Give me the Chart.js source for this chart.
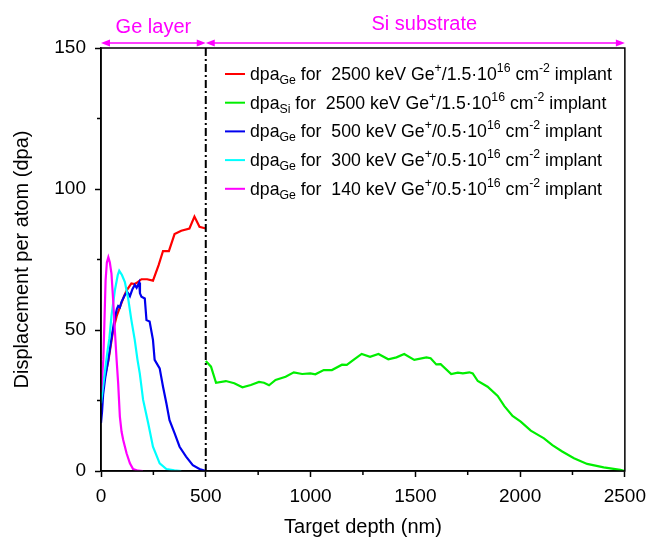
<!DOCTYPE html>
<html>
<head>
<meta charset="utf-8">
<script src="https://cdn.jsdelivr.net/npm/chart.js@4.4.1/dist/chart.umd.min.js"></script>
<style>
  html, body { margin: 0; padding: 0; background: #fff; }
  #wrap { width: 654px; height: 543px; }
</style>
</head>
<body>
<div id="wrap"><canvas id="chart" width="654" height="543"></canvas></div>
<script>
// 2500 keV, dpa in Ge layer
const geDepth2500 = [0, 10, 20, 35, 58, 75, 90, 110, 122, 145, 161, 175, 193, 220, 248, 275, 296, 324, 351, 383, 422, 446, 470, 500];
const geDpa2500 = [27, 31, 34, 39, 50, 55, 58, 62, 64, 66.5, 66.3, 67, 68, 68, 67.5, 73, 78, 78, 84, 85.2, 86, 90.2, 86.6, 86];

// 2500 keV, dpa in Si substrate
const siDepth2500 = [500, 525, 549, 596, 636, 675, 715, 754, 778, 802, 833, 881, 920, 960, 999, 1023, 1063, 1102, 1150, 1173, 1205, 1244, 1284, 1324, 1371, 1410, 1447, 1495, 1553, 1573, 1600, 1621, 1671, 1703, 1727, 1758, 1774, 1798, 1845, 1893, 1925, 1964, 2003, 2051, 2114, 2154, 2201, 2257, 2320, 2399, 2478, 2500];
const siDpa2500 = [39, 37, 31.3, 31.9, 31.1, 29.7, 30.5, 31.6, 31.3, 30.4, 32.3, 33.4, 35, 34.4, 34.6, 34.3, 35.8, 35.8, 37.7, 37.6, 39.4, 41.5, 40.5, 41.5, 39.6, 40.3, 41.5, 39.4, 40.3, 40, 37.8, 37.9, 34.4, 34.9, 34.6, 35, 34.6, 31.9, 29.9, 26.6, 23, 19.5, 17.5, 14.3, 11.6, 9.2, 6.9, 4.5, 2.5, 1.3, 0.4, 0];

// 500 keV
const geDepth500 = [0, 5, 10, 20, 35, 50, 65, 76, 82, 90, 98, 114, 125, 138, 150, 161, 170, 182, 186, 193, 209, 217, 232, 248, 256, 280, 296, 312, 327, 351, 375, 406, 438, 470, 493, 500];
const geDpa500 = [17, 21, 27, 33, 39.5, 47, 54, 57.5, 58.5, 58, 60, 62.4, 63.5, 62, 64.5, 66, 65, 66.8, 63, 61.8, 61.2, 53.5, 53, 46.5, 39.4, 36.4, 29.9, 24, 18, 13.4, 8.6, 5.1, 2.1, 0.7, 0.2, 0];

// 300 keV
const geDepth300 = [0, 10, 20, 30, 40, 50, 66, 80, 87, 100, 114, 130, 145, 161, 174, 185, 201, 225, 248, 280, 312, 350, 383];
const geDpa300 = [24, 30, 36, 42, 47, 55, 64, 69.5, 71, 69.5, 67, 61, 53.5, 46.5, 39.5, 34.6, 25.2, 17, 8.6, 2.7, 0.7, 0.2, 0];

// 140 keV
const geDepth140 = [0, 5, 11, 16, 22, 28, 35, 42, 50, 58, 66, 74, 82, 90, 98, 106, 122, 138, 153, 177, 200];
const geDpa140 = [28, 33, 39.4, 52, 67.7, 74, 75.8, 74, 70, 60.6, 50, 40, 31, 19.3, 14, 11, 6.3, 2.7, 0.7, 0.1, 0];

const xTicks = [0, 500, 1000, 1500, 2000, 2500];
const xMinorTicks = [250, 750, 1250, 1750, 2250];
const yTicks = [0, 50, 100, 150];
const yMinorTicks = [25, 75, 125];
const layerBoundary = 500;

const seriesColors = ["#ff0000", "#00ee00", "#0000ee", "#00ffff", "#ff00ff"];
// legend texts: [sub, energy, dose]
const legendItems = [
  ["Ge", "2500", "1.5"],
  ["Si", "2500", "1.5"],
  ["Ge", "500", "0.5"],
  ["Ge", "300", "0.5"],
  ["Ge", "140", "0.5"],
];

const FONT = "'Liberation Sans', Arial, sans-serif";
Chart.defaults.font.family = FONT;
Chart.defaults.color = "#000";

function pts(xs, ys) {
  return xs.map((x, i) => ({ x: x, y: ys[i] }));
}

function arrowHead(ctx, x, y, dir) {
  ctx.beginPath();
  ctx.moveTo(x, y);
  ctx.lineTo(x - dir * 9, y - 3.5);
  ctx.lineTo(x - dir * 9, y + 3.5);
  ctx.closePath();
  ctx.fill();
}

function doubleArrow(ctx, x1, x2, y) {
  ctx.beginPath();
  ctx.moveTo(x1 + 4, y);
  ctx.lineTo(x2 - 4, y);
  ctx.stroke();
  arrowHead(ctx, x1, y, -1);
  arrowHead(ctx, x2, y, 1);
}

const decorPlugin = {
  id: "decor",
  beforeDatasetsDraw(chart) {
    const { ctx, chartArea: a, scales } = chart;
    const x = scales.x, y = scales.y;
    ctx.save();
    ctx.strokeStyle = "#000";
    ctx.lineWidth = 1.5;
    // minor ticks
    ctx.beginPath();
    xMinorTicks.forEach((v) => {
      const px = x.getPixelForValue(v);
      ctx.moveTo(px, a.bottom);
      ctx.lineTo(px, a.bottom + 4);
    });
    yMinorTicks.forEach((v) => {
      const py = y.getPixelForValue(v);
      ctx.moveTo(a.left, py);
      ctx.lineTo(a.left - 4, py);
    });
    ctx.stroke();
    ctx.restore();
  },
  afterDatasetsDraw(chart) {
    const { ctx, chartArea: a, scales } = chart;
    const x = scales.x;
    const bx = x.getPixelForValue(layerBoundary);
    ctx.save();
    // frame
    ctx.strokeStyle = "#000";
    ctx.lineWidth = 1.5;
    ctx.strokeRect(a.left, a.top, a.right - a.left, a.bottom - a.top);
    // dash-dot boundary
    ctx.lineWidth = 2;
    ctx.setLineDash([8, 3, 2, 3]);
    ctx.beginPath();
    ctx.moveTo(bx, a.top);
    ctx.lineTo(bx, a.bottom);
    ctx.stroke();
    ctx.setLineDash([]);

    // header arrows + labels
    ctx.strokeStyle = "#ff00ff";
    ctx.fillStyle = "#ff00ff";
    ctx.lineWidth = 1.5;
    const ay = a.top - 5;
    doubleArrow(ctx, a.left, bx, ay);
    doubleArrow(ctx, bx, a.right, ay);
    ctx.font = "20px " + FONT;
    ctx.textAlign = "center";
    ctx.textBaseline = "alphabetic";
    ctx.fillText("Ge layer", (a.left + bx) / 2, ay - 10);
    ctx.fillText("Si substrate", (bx + a.right) / 2 + 9, ay - 13);

    // legend with sub/superscripts
    const lx = a.left + 124;
    const ly0 = a.top + 26;
    const step = 28.7;
    ctx.textAlign = "left";
    legendItems.forEach((item, i) => {
      const ry = ly0 + i * step;
      ctx.strokeStyle = seriesColors[i];
      ctx.lineWidth = 2;
      ctx.beginPath();
      ctx.moveTo(lx, ry);
      ctx.lineTo(lx + 20, ry);
      ctx.stroke();
      const base = ry + 6;
      const parts = [
        ["dpa", 0],
        [item[0], 1],
        [" for  " + item[1] + " keV Ge", 0],
        ["+", 2],
        ["/" + item[2] + "\u00b710", 0],
        ["16", 2],
        [" cm", 0],
        ["-2", 2],
        [" implant", 0],
      ];
      let cx = lx + 25;
      ctx.fillStyle = "#000";
      parts.forEach(([t, kind]) => {
        if (kind === 0) {
          ctx.font = "17.7px " + FONT;
          ctx.fillText(t, cx, base);
        } else {
          ctx.font = "12.3px " + FONT;
          ctx.fillText(t, cx, kind === 1 ? base + 4 : base - 8);
        }
        cx += ctx.measureText(t).width;
      });
    });
    ctx.restore();
  },
};

function ds(label, xs, ys, color, order) {
  return {
    label: label,
    data: pts(xs, ys),
    borderColor: color,
    backgroundColor: color,
    borderWidth: 2.2,
    pointRadius: 0,
    tension: 0,
    fill: false,
    order: order,
  };
}

new Chart(document.getElementById("chart"), {
  type: "line",
  data: {
    datasets: [
      ds("dpaGe 2500 keV", geDepth2500, geDpa2500, seriesColors[0], 4),
      ds("dpaSi 2500 keV", siDepth2500, siDpa2500, seriesColors[1], 3),
      ds("dpaGe 500 keV", geDepth500, geDpa500, seriesColors[2], 2),
      ds("dpaGe 300 keV", geDepth300, geDpa300, seriesColors[3], 1),
      ds("dpaGe 140 keV", geDepth140, geDpa140, seriesColors[4], 0),
    ],
  },
  options: {
    responsive: false,
    animation: false,
    layout: { padding: { top: 48, right: 26, left: 0, bottom: 0 } },
    plugins: { legend: { display: false }, tooltip: { enabled: false } },
    scales: {
      x: {
        type: "linear",
        min: 0,
        max: 2500,
        afterFit: (s) => { s.height = 72; },
        afterBuildTicks: (s) => { s.ticks = xTicks.map((v) => ({ value: v })); },
        ticks: { font: { size: 19 }, padding: 8, maxRotation: 0, callback: (v) => String(v) },
        grid: { drawOnChartArea: false, tickLength: 6, tickWidth: 1.5, tickColor: "#000" },
        border: { color: "#000", width: 1.5 },
        title: { display: true, text: "Target depth (nm)", font: { size: 20 }, padding: { top: 0, bottom: 4 } },
      },
      y: {
        min: 0,
        max: 150,
        afterFit: (s) => { s.width = 101; },
        afterBuildTicks: (s) => { s.ticks = yTicks.map((v) => ({ value: v })); },
        ticks: { font: { size: 19 }, padding: 9, callback: (v) => String(v) },
        grid: { drawOnChartArea: false, tickLength: 6, tickWidth: 1.5, tickColor: "#000" },
        border: { color: "#000", width: 1.5 },
        title: { display: true, text: "Displacement per atom (dpa)", font: { size: 20 }, padding: { top: 10, bottom: 0 } },
      },
    },
  },
  plugins: [decorPlugin],
});
</script>
</body>
</html>
